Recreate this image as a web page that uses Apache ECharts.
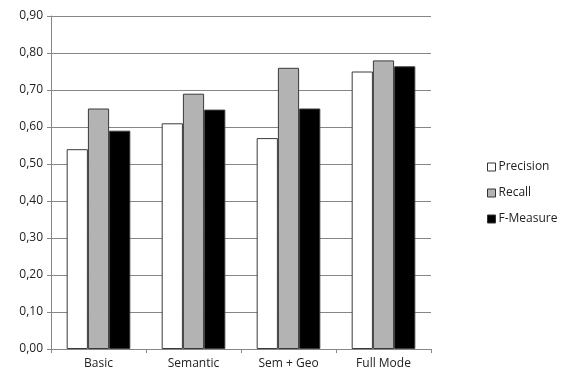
<!DOCTYPE html>
<html>
<head>
<meta charset="utf-8">
<script src="https://cdn.jsdelivr.net/npm/echarts@6/dist/echarts.min.js"></script>
<style>html,body{margin:0;padding:0;background:#fff;}#c{width:566px;height:372px;}</style>
</head>
<body>
<div id="c"></div>
<script>
var categories = ['Basic', 'Semantic', 'Sem + Geo', 'Full Mode'];
var precision = [0.54, 0.61, 0.57, 0.75];
var recall = [0.65, 0.69, 0.76, 0.78];
var fMeasure = [0.59, 0.647, 0.65, 0.764];
var seriesNames = ['Precision', 'Recall', 'F-Measure'];

var font = 'Open Sans, Liberation Sans, sans-serif';
var chart = echarts.init(document.getElementById('c'), null, {renderer: 'canvas'});
function bar(name, data, color) {
  return {
    name: name, type: 'bar', data: data,
    barGap: '0%', barCategoryGap: '33%',
    itemStyle: {color: color, borderColor: '#3a3a3a', borderWidth: 1},
    animation: false
  };
}
chart.setOption({
  animation: false,
  grid: {left: 51, top: 16, right: 135, bottom: 23, containLabel: false},
  legend: {
    orient: 'vertical', left: 482, top: 156, itemGap: 14,
    itemWidth: 8, itemHeight: 8, icon: 'rect',
    textStyle: {fontFamily: font, fontSize: 12, color: '#222', padding: [0, 0, 0, -2]},
    itemStyle: {borderColor: '#333', borderWidth: 1},
    data: seriesNames
  },
  xAxis: {
    type: 'category', data: categories,
    axisLine: {lineStyle: {color: '#868686'}},
    axisTick: {show: true, length: 4, lineStyle: {color: '#868686'}},
    axisLabel: {fontFamily: font, fontSize: 12, color: '#222', margin: 9}
  },
  yAxis: {
    type: 'value', min: 0, max: 0.9, interval: 0.1,
    axisLine: {show: true, lineStyle: {color: '#868686'}},
    axisTick: {show: true, inside: false, length: 4, lineStyle: {color: '#868686'}},
    splitLine: {lineStyle: {color: '#868686', width: 1}},
    axisLabel: {fontFamily: font, fontSize: 12, color: '#222', margin: 8,
      formatter: function (v) { return v.toFixed(2).replace('.', ','); }}
  },
  series: [
    bar(seriesNames[0], precision, '#ffffff'),
    bar(seriesNames[1], recall, '#b3b3b3'),
    bar(seriesNames[2], fMeasure, '#000000')
  ]
});
</script>
</body>
</html>
